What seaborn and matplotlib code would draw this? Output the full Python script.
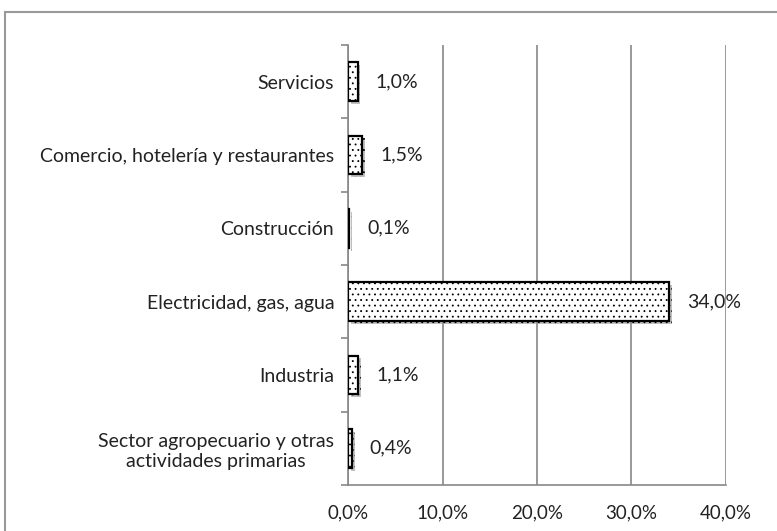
import matplotlib
matplotlib.use("Agg")
import matplotlib.pyplot as plt
import matplotlib.patheffects as pe
from matplotlib.patches import Rectangle
from matplotlib.ticker import FixedLocator, FuncFormatter
import seaborn as sns
import pandas as pd

sectores = [
    "Servicios",
    "Comercio, hotelería y restaurantes",
    "Construcción",
    "Electricidad, gas, agua",
    "Industria",
    "Sector agropecuario y otras\nactividades primarias",
]
valores = [1.0, 1.5, 0.1, 34.0, 1.1, 0.4]

df = pd.DataFrame({"sector": sectores, "valor": valores})

sns.set_theme(style="white")
plt.rcParams["font.family"] = ["Lato", "DejaVu Sans"]
plt.rcParams["hatch.linewidth"] = 0.6
plt.rcParams["hatch.color"] = "black"

fig = plt.figure(figsize=(7.77, 5.31), dpi=100)
ax = fig.add_axes([0.448, 0.0866, 0.486, 0.8286])

sns.barplot(data=df, x="valor", y="sector", orient="h", ax=ax,
            color="white", edgecolor="black", linewidth=1.6, width=0.53,
            hatch="...", zorder=3)

for bar in ax.patches:
    bar.set_path_effects([
        pe.SimplePatchShadow(offset=(2, -2), shadow_rgbFace="#999999", alpha=0.6),
        pe.Normal(),
    ])

for bar, v in zip(ax.patches, valores):
    y = bar.get_y() + bar.get_height() / 2
    ax.annotate(f"{v:.1f}%".replace(".", ","), xy=(v, y), xytext=(18, 0),
                textcoords="offset pixels",
                va="center", ha="left", fontsize=14, color="#222222")

ax.set_xlim(0, 40)
ax.set_ylim(5.5, -0.5)
ax.xaxis.set_major_locator(FixedLocator([0, 10, 20, 30, 40]))
ax.xaxis.set_major_formatter(FuncFormatter(lambda x, p: f"{x:.1f}%".replace(".", ",")))
ax.grid(axis="x", color="#888888", linewidth=1.2, zorder=0)
ax.set_axisbelow(True)
ax.set_xlabel("")
ax.set_ylabel("")

for s in ["top", "right"]:
    ax.spines[s].set_visible(False)
for s in ["left", "bottom"]:
    ax.spines[s].set_color("#888888")
    ax.spines[s].set_linewidth(1.2)

ax.tick_params(axis="x", which="major", length=6, width=1.2, color="#888888",
               direction="out", labelsize=13.5, labelcolor="#222222", pad=8)
ax.tick_params(axis="y", which="major", length=0, labelsize=14,
               labelcolor="#222222", pad=10)
ax.yaxis.set_minor_locator(FixedLocator([-0.5, 0.5, 1.5, 2.5, 3.5, 4.5, 5.5]))
ax.tick_params(axis="y", which="minor", length=5, width=1.2, color="#888888",
               direction="out", left=True)
for lbl in ax.get_yticklabels():
    lbl.set_multialignment("center")

fig.patches.append(Rectangle((5 / 777, -0.05), 1.2, 1 - 12 / 531 + 0.05,
                             transform=fig.transFigure, fill=False,
                             edgecolor="#999999", linewidth=1.5))

fig.savefig("out.png", dpi=100)
